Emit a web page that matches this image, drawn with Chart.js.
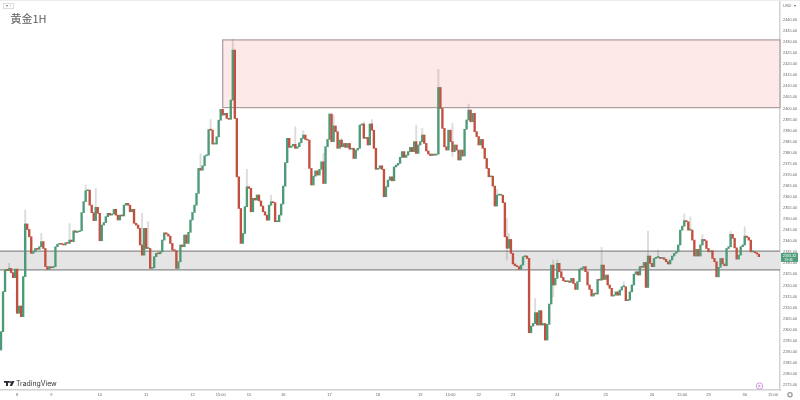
<!DOCTYPE html>
<html>
<head>
<meta charset="utf-8">
<title>黄金1H</title>
<script src="https://cdn.jsdelivr.net/npm/chart.js@4/dist/chart.umd.min.js"></script>
<style>
  html, body { margin: 0; padding: 0; background: #fff; }
  canvas { display: block; filter: blur(0.45px); }
</style>
</head>
<body>
<canvas id="goldChart" width="800" height="400"></canvas>
<script>
// hourly closes, each bar opens on the previous close
var firstOpen = 2290.8;
var closes = [
  2299.1,2317.2,2327.0,2326.7,2327.7,2325.8,2323.5,2327.4,2307.4,2310.7,
  2305.9,2324.0,2347.8,2345.3,2342.0,2334.5,2335.2,2336.7,2336.3,2337.5,
  2339.8,2336.7,2328.5,2327.3,2328.5,2328.0,2328.5,2337.5,2338.6,2339.0,
  2338.6,2338.3,2339.3,2339.0,2340.5,2339.8,2344.7,2344.0,2344.3,2344.7,
  2352.9,2357.9,2362.8,2363.1,2356.3,2352.9,2349.3,2355.3,2352.6,2340.2,
  2347.3,2348.4,2351.1,2352.6,2351.8,2352.3,2354.4,2351.8,2349.6,2351.8,
  2351.4,2356.3,2357.1,2356.3,2353.3,2354.4,2348.1,2347.3,2345.8,2338.3,
  2333.7,2345.8,2336.7,2336.7,2327.7,2328.0,2333.0,2334.5,2334.3,2335.2,
  2340.5,2343.8,2343.2,2342.3,2339.0,2336.0,2335.7,2327.7,2330.7,2338.3,
  2337.5,2342.8,2339.0,2344.0,2349.6,2353.0,2356.3,2361.6,2372.9,2372.1,
  2374.1,2378.6,2378.9,2390.5,2390.2,2383.9,2383.9,2387.2,2394.7,2399.6,
  2397.0,2397.8,2395.5,2395.1,2403.8,2426.4,2395.5,2369.1,2354.8,2339.0,
  2343.5,2355.6,2364.6,2363.9,2353.3,2359.4,2358.6,2360.9,2358.2,2355.9,
  2353.3,2351.8,2349.5,2356.3,2357.8,2357.4,2348.8,2348.8,2351.8,2356.8,
  2364.9,2375.5,2386.5,2382.4,2383.0,2383.8,2382.0,2382.7,2384.5,2386.5,
  2388.0,2386.0,2385.7,2372.9,2365.4,2369.4,2371.8,2369.9,2372.5,2375.9,
  2366.1,2382.7,2386.0,2397.5,2385.0,2392.1,2389.5,2382.0,2385.7,2382.7,
  2384.2,2382.4,2384.2,2381.6,2382.0,2377.4,2381.2,2382.0,2392.5,2393.0,
  2386.5,2386.9,2383.5,2393.0,2390.2,2382.0,2372.5,2372.9,2374.1,2372.5,
  2360.1,2364.6,2367.6,2369.1,2367.3,2373.6,2374.4,2375.2,2377.9,2380.5,
  2377.9,2378.9,2380.5,2382.4,2380.5,2385.0,2379.7,2383.5,2385.0,2388.0,
  2384.2,2380.8,2379.4,2378.7,2379.4,2378.9,2379.4,2409.5,2400.0,2391.0,
  2382.7,2381.2,2390.2,2385.0,2380.5,2383.5,2381.2,2376.7,2381.2,2378.5,
  2390.6,2394.8,2399.3,2394.0,2397.8,2389.5,2387.3,2383.5,2386.0,2382.0,
  2377.4,2372.9,2369.1,2369.4,2364.9,2355.9,2360.8,2360.8,2360.8,2357.4,
  2342.0,2336.8,2340.8,2334.5,2329.7,2328.9,2328.5,2327.3,2329.2,2333.0,
  2333.3,2332.2,2298.6,2301.6,2302.8,2307.7,2302.1,2308.6,2302.1,2302.8,
  2295.3,2302.4,2311.6,2329.2,2320.2,2323.2,2330.0,2326.2,2323.6,2322.1,
  2321.7,2322.0,2321.4,2323.2,2320.9,2318.2,2321.7,2327.4,2327.7,2328.5,
  2326.2,2320.2,2318.2,2315.2,2316.4,2316.1,2322.7,2322.4,2329.2,2322.7,
  2324.7,2320.2,2318.7,2315.2,2315.6,2317.1,2315.6,2317.9,2319.4,2319.4,
  2313.1,2313.4,2317.1,2320.2,2325.1,2326.2,2324.7,2328.5,2328.2,2330.4,
  2319.1,2333.3,2330.0,2328.5,2332.2,2332.7,2332.7,2332.2,2332.5,2331.8,
  2330.7,2329.7,2331.5,2333.3,2334.5,2335.2,2338.3,2345.0,2346.8,2349.3,
  2348.8,2345.0,2345.0,2340.5,2333.3,2336.3,2333.3,2338.3,2340.8,2340.2,
  2336.7,2335.2,2335.7,2332.2,2330.7,2323.9,2328.2,2332.2,2329.7,2328.9,
  2336.7,2337.5,2343.1,2341.3,2337.0,2331.9,2333.7,2337.5,2338.3,2342.3,
  2341.7,2340.5,2335.2,2335.2,2334.8,2334.2,2333.0
];

// only the wicks that stick out enough to read
var highBars = [12,4,20,34,42,47,70,73,99,104,115,122,134,146,150,160,165,169,180,184,206,209,217,224,232,246,251,252,265,274,276,298,309,321,326,339,342,348,362,369];
var highValues = [2354.1,2330,2343.5,2348,2365.4,2363.9,2352.6,2348.8,2379.5,2395,2431.2,2372.5,2360.8,2391.7,2390,2379.7,2397,2386.5,2394,2395,2392.5,2391,2417.7,2393.3,2402,2363.4,2350.3,2343.5,2314.1,2331.5,2331.5,2337.2,2321.7,2344.6,2336,2352.3,2351,2342.8,2344.3,2346.5];
var lowBars = [0,10,15,22,24,69,87,93,119,113,114,132,137,149,154,167,175,182,186,190,207,216,224,228,245,241,251,256,257,262,266,270,274,285,293,295,303,310,320,344,355,365,372];
var lowValues = [2287,2302.5,2331.5,2322.4,2318.7,2319.1,2326.2,2332.2,2333.7,2390.2,2391,2345,2336,2379.7,2363.1,2378.2,2372.9,2378.2,2360.8,2354.1,2369.4,2373.7,2378.2,2372.9,2351.8,2361.6,2331.5,2324.7,2325.5,2295.6,2299.1,2291.1,2314.9,2316.4,2311.9,2312.2,2314.1,2305.1,2312.6,2328.5,2319.7,2326.2,2333];

var priceTicks = [2275,2280,2285,2290,2295,2300,2305,2310,2315,2320,2325,2330,2335,2340,2345,2350,2355,2360,2365,2370,2375,2380,2385,2390,2395,2400,2405,2410,2415,2420,2425,2430,2435,2440];
var dayBars = [8,25,49,72,95,109,123,140,163,187,208,223,237,254,276,300,323,338,351,369,383];
var dayLabels = ['8','9','10','11','12','15:00','15','16','17','18','19','15:00','22','23','24','25','26','15:00','29','30','15:00'];

// the two marked price zones: [from bar, low price, high price]
var supplyZone = [110, 2400.4, 2431];
var supportZone = [0, 2327, 2335.5];
var lastPrice = 2333.32;
var slotCount = 387;

var opens = [firstOpen].concat(closes.slice(0, -1));
var barLabels = [];
for (var i = 0; i < slotCount; i++) barLabels.push(String(i));

var bodies = [], wicks = [], bodyColors = [];
for (var i = 0; i < closes.length; i++) {
  var top = Math.max(opens[i], closes[i]);
  var bottom = Math.min(opens[i], closes[i]);
  var h = highBars.indexOf(i), l = lowBars.indexOf(i);
  bodies.push([opens[i], closes[i]]);
  wicks.push([l < 0 ? bottom : lowValues[l], h < 0 ? top : highValues[h]]);
  bodyColors.push(closes[i] >= opens[i] ? '#4d9a78' : '#c2503f');
}

function drawZone(chart, zone, fill, line) {
  var ctx = chart.ctx, x = chart.scales.x, y = chart.scales.y;
  var left = zone[0] === 0 ? chart.chartArea.left : x.getPixelForValue(zone[0]);
  var right = chart.chartArea.right;
  var yTop = y.getPixelForValue(zone[2]), yBottom = y.getPixelForValue(zone[1]);
  ctx.save();
  ctx.fillStyle = fill;
  ctx.fillRect(left, yTop, right - left, yBottom - yTop);
  ctx.strokeStyle = line;
  ctx.lineWidth = 1.2;
  if (zone[0] === 0) {
    ctx.beginPath();
    ctx.moveTo(left, yTop); ctx.lineTo(right, yTop);
    ctx.moveTo(left, yBottom); ctx.lineTo(right, yBottom);
    ctx.stroke();
  } else {
    ctx.strokeRect(left, yTop, right - left, yBottom - yTop);
  }
  ctx.restore();
}

// zones sit under the candles
var zonesPlugin = {
  id: 'zones',
  beforeDatasetsDraw: function (chart) {
    drawZone(chart, supplyZone, '#fde9e8', '#a99d9d');
    drawZone(chart, supportZone, '#e5e5e5', '#8a8a8a');
  }
};

// TradingView chrome: title, logo, price tag, small buttons
var chromePlugin = {
  id: 'chrome',
  afterDraw: function (chart) {
    var ctx = chart.ctx;
    ctx.save();

    ctx.strokeStyle = '#ececec';
    ctx.lineWidth = 1;
    ctx.beginPath(); ctx.moveTo(0, 0.5); ctx.lineTo(800, 0.5); ctx.stroke();

    ctx.strokeStyle = '#dcdcdc';
    ctx.strokeRect(3.5, 3.5, 10, 5);
    ctx.fillStyle = '#777';
    ctx.font = '4px "Liberation Sans"';
    ctx.textAlign = 'center';
    ctx.textBaseline = 'middle';
    ctx.fillText('▾ ‹', 8.5, 6.2);

    ctx.textAlign = 'left';
    ctx.textBaseline = 'alphabetic';
    ctx.fillStyle = '#5c5c5c';
    ctx.font = '11px "Noto Sans CJK SC"';
    ctx.fillText('黄金1H', 10.5, 22.5);

    // logo mark
    ctx.fillStyle = '#2a2e39';
    ctx.fillRect(4, 381, 5, 1.8);
    ctx.fillRect(6, 381, 2, 5);
    ctx.beginPath(); ctx.arc(10, 382, 1, 0, Math.PI * 2); ctx.fill();
    ctx.beginPath(); ctx.moveTo(11.5, 381); ctx.lineTo(14.5, 381); ctx.lineTo(12, 386); ctx.lineTo(9.8, 386); ctx.fill();
    ctx.fillStyle = '#333';
    ctx.font = '6.9px "Inter"';
    ctx.fillText('TradingView', 16, 386);

    // last price tag
    var tagY = chart.scales.y.getPixelForValue(lastPrice);
    ctx.fillStyle = '#4f9f7d';
    ctx.fillRect(781, tagY - 3, 17, 9);
    ctx.fillStyle = '#fff';
    ctx.font = '3.8px "Liberation Sans"';
    ctx.textAlign = 'center';
    ctx.fillText(lastPrice.toFixed(2), 789.5, tagY + 1);
    ctx.font = '3.4px "Liberation Sans"';
    ctx.fillText('19:46', 788.5, tagY + 5);

    // currency button
    ctx.fillStyle = '#666';
    ctx.font = '4px "Liberation Sans"';
    ctx.textAlign = 'left';
    ctx.fillText('USD', 783, 7.3);
    ctx.fillText('▾', 794, 7.3);

    // replay button
    ctx.strokeStyle = '#c98fdc';
    ctx.lineWidth = 0.9;
    ctx.beginPath(); ctx.arc(759.5, 386, 3.2, 0, Math.PI * 2); ctx.stroke();
    ctx.fillStyle = '#c98fdc';
    ctx.beginPath(); ctx.moveTo(758.5, 384.4); ctx.lineTo(761, 386); ctx.lineTo(758.5, 387.6); ctx.fill();

    // settings button
    ctx.strokeStyle = '#9a9a9a';
    ctx.lineWidth = 1.3;
    ctx.beginPath(); ctx.arc(790, 394.8, 2.1, 0, Math.PI * 2); ctx.stroke();

    ctx.restore();
  }
};

var goldChart = new Chart(document.getElementById('goldChart').getContext('2d'), {
  type: 'bar',
  data: {
    labels: barLabels,
    datasets: [
      { label: 'body', data: bodies, backgroundColor: bodyColors, grouped: false, barThickness: 1.7, minBarLength: 1, order: 1 },
      { label: 'wick', data: wicks, backgroundColor: 'rgba(120,120,120,0.25)', grouped: false, barThickness: 1.3, order: 2 }
    ]
  },
  plugins: [zonesPlugin, chromePlugin],
  options: {
    responsive: false,
    animation: false,
    layout: { padding: 0 },
    plugins: { legend: { display: false }, tooltip: { enabled: false } },
    scales: {
      x: {
        grid: { display: false, drawTicks: false },
        border: { color: '#d2d2d2', width: 1.5 },
        afterFit: function (scale) {
          scale.height = 10;
          scale.paddingLeft = 0;
          scale.paddingRight = 0;
        },
        afterBuildTicks: function (scale) {
          scale.ticks = dayBars.map(function (b) { return { value: b }; });
        },
        ticks: {
          autoSkip: false, maxRotation: 0, minRotation: 0, padding: 2.5,
          color: '#666', font: { size: 4, family: 'Liberation Sans' },
          callback: function (v) { return dayLabels[dayBars.indexOf(v)]; }
        }
      },
      y: {
        position: 'right',
        min: 2272.73,
        max: 2449.04,
        grid: { display: false, drawTicks: false },
        border: { color: '#d2d2d2', width: 1.5 },
        afterFit: function (scale) {
          scale.width = 20;
          scale.paddingTop = 0;
          scale.paddingBottom = 0;
        },
        afterBuildTicks: function (scale) {
          scale.ticks = priceTicks.map(function (p) { return { value: p }; });
        },
        ticks: {
          autoSkip: false, padding: 3,
          color: '#666', font: { size: 3.9, family: 'Liberation Sans' },
          callback: function (v) { return v.toFixed(2); }
        }
      }
    }
  }
});
</script>
</body>
</html>
